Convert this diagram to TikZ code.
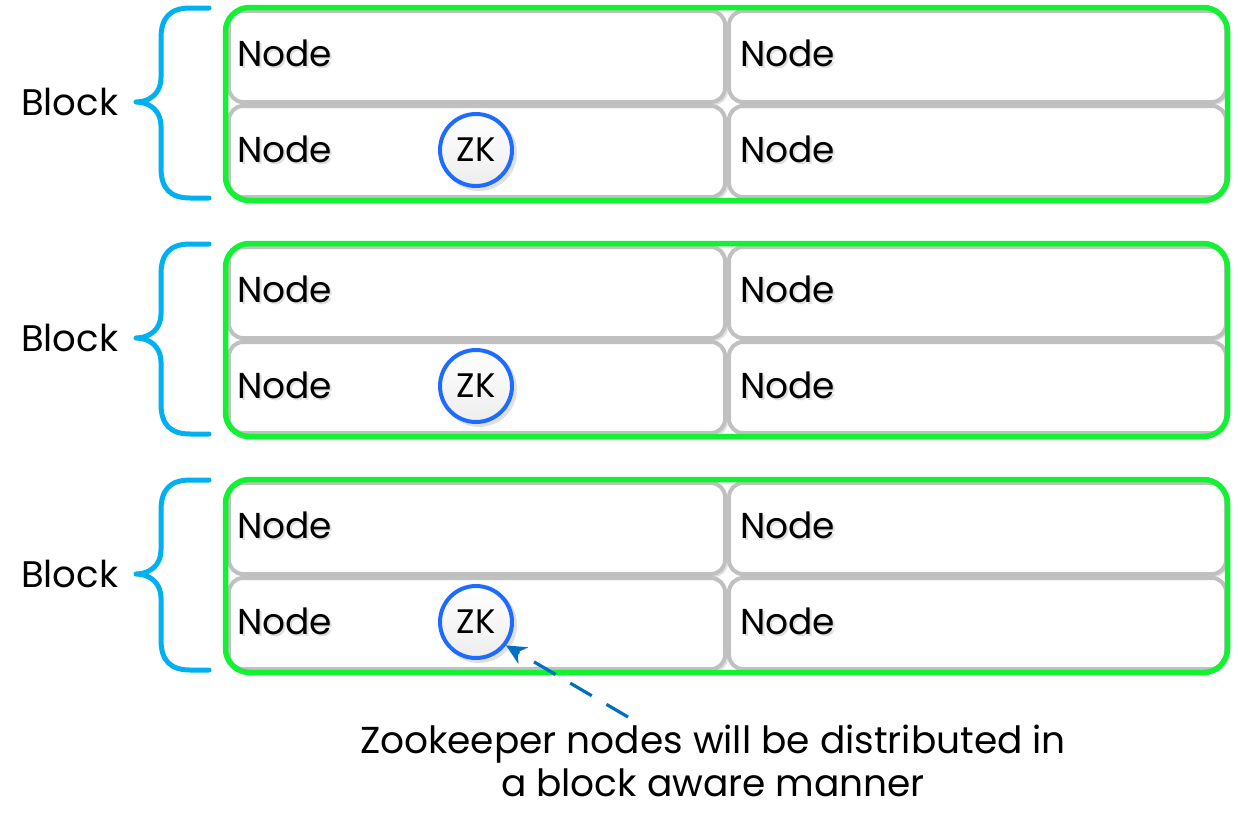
\documentclass[tikz,border=0pt]{standalone}
\usepackage{fontspec}
\setmainfont{Poppins}
\usetikzlibrary{arrows.meta}
\definecolor{grn}{HTML}{12F232}
\definecolor{brc}{HTML}{00B0F0}
\definecolor{zkb}{HTML}{1E6BFF}
\definecolor{arr}{HTML}{0070C0}
\definecolor{cellb}{HTML}{C0C0C0}
\definecolor{shd}{HTML}{E0E0E0}
\tikzset{
  cell/.style={draw=cellb, line width=4pt, fill=white, rounded corners=14pt},
  cellshadow/.style={fill=shd, rounded corners=14pt},
  blockbox/.style={draw=grn, line width=5.5pt, rounded corners=24pt},
  bracestyle/.style={draw=brc, line width=5pt, line cap=round, line join=round},
  nodetext/.style={anchor=west, inner sep=0pt, font=\fontsize{36}{40}\selectfont},
  nodeshadow/.style={anchor=west, inner sep=0pt, text=shd, font=\fontsize{36}{40}\selectfont},
  blocklabel/.style={anchor=west, inner sep=0pt, font=\fontsize{37}{40}\selectfont},
  zk/.style={circle, draw=zkb, line width=4pt, top color=white, bottom color=gray!14, minimum size=72pt, inner sep=0pt, font=\fontsize{34}{38}\selectfont},
  zkshadow/.style={circle, fill=shd, minimum size=76pt, inner sep=0pt},
  caption/.style={inner sep=0pt, align=center, font=\fontsize{37.5}{43}\selectfont},
  dasharrow/.style={draw=arr, line width=3.2pt, dash pattern=on 25pt off 17pt, -{Stealth[length=20pt,width=19pt]}}
}
\begin{document}
\begin{tikzpicture}[x=1pt,y=-1pt]
\useasboundingbox (0,0) rectangle (1238,825);
\foreach \i/\yo in {1/0,2/236,3/472}{
  \begin{scope}[yshift=-\yo pt]
    % cell shadows
    \fill[cellshadow] (231,13) rectangle (728,105);
    \fill[cellshadow] (231,109) rectangle (728,200);
    \fill[cellshadow] (731,13) rectangle (1228,105);
    \fill[cellshadow] (731,109) rectangle (1228,200);
    % cells
    \draw[cell] (229,11) rectangle (725,102);
    \draw[cell] (229,106) rectangle (725,197);
    \draw[cell] (729,11) rectangle (1226,102);
    \draw[cell] (729,106) rectangle (1226,197);
    % block box
    \draw[blockbox] (225.5,7.5) rectangle (1227.5,200.5);
    % brace
    \draw[bracestyle] (209,8) -- (190,8) .. controls (170,8) and (161,18) .. (161,38) -- (161,78)
      .. controls (161,93) and (150,102) .. (136,102)
      .. controls (150,102) and (161,111) .. (161,126) -- (161,168)
      .. controls (161,188) and (170,198) .. (190,198) -- (209,198);
    % texts
    \node[nodeshadow] at (239,55) {Node};
    \node[nodetext] (n\i a) at (237,53) {Node};
    \node[nodeshadow] at (742,55) {Node};
    \node[nodetext] (n\i b) at (740,53) {Node};
    \node[nodeshadow] at (239,151) {Node};
    \node[nodetext] (n\i c) at (237,149) {Node};
    \node[nodeshadow] at (742,151) {Node};
    \node[nodetext] (n\i d) at (740,149) {Node};
    \node[blocklabel] (b\i) at (21,102) {Block};
    \node[zkshadow] at (479,153) {};
    \node[zk] (zk\i) at (476,150) {ZK};
  \end{scope}
}
\coordinate (tail) at (628,717);
\draw[dasharrow] (tail) -- (zk3.-38);
\node[caption] (cap) at (713,761) {Zookeeper nodes will be distributed in\\a block aware manner};
\end{tikzpicture}
\end{document}
